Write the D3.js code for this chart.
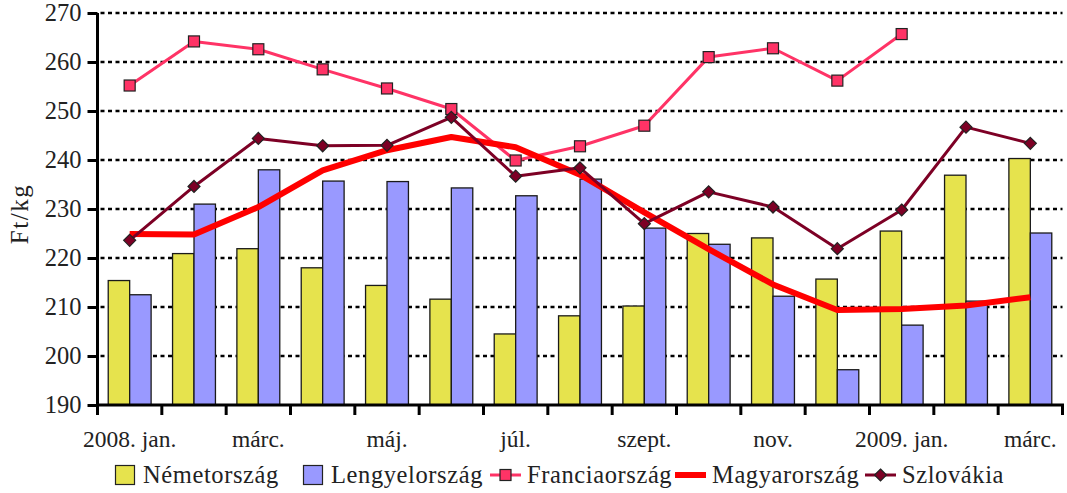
<!DOCTYPE html>
<html>
<head>
<meta charset="utf-8">
<script src="https://cdn.jsdelivr.net/npm/d3@7"></script>
<style>
  html, body { margin: 0; padding: 0; background: #fff; }
  svg { display: block; font-family: "Liberation Serif", "DejaVu Serif", serif; }
</style>
</head>
<body>
<svg id="chart" width="1067" height="493"></svg>
<script>
// months, 2008 jan .. 2009 márc
const months = ['2008. jan.', 'febr.', 'márc.', 'ápr.', 'máj.', 'jún.', 'júl.', 'aug.',
  'szept.', 'okt.', 'nov.', 'dec.', '2009. jan.', 'febr.', 'márc.'];
const monthKeys = months.map((m, i) => i + ':' + m);
const shownLabels = [0, 2, 4, 6, 8, 10, 12, 14];

const yTicks = [190, 200, 210, 220, 230, 240, 250, 260, 270];

// bar series
const nemetorszag   = [215.4, 220.9, 221.9, 218.0, 214.4, 211.6, 204.5, 208.2, 210.2, 225.0, 224.1, 215.7, 225.5, 236.9, 240.3];
const lengyelorszag = [212.5, 231.0, 238.0, 235.7, 235.6, 234.3, 232.7, 236.1, 226.1, 222.8, 212.2, 197.2, 206.3, 211.2, 225.1];

// line series
const franciaorszag = [255.2, 264.2, 262.6, 258.5, 254.6, 250.4, 239.9, 242.8, 247.0, 261.0, 262.8, 256.2, 265.7, null, null];
const magyarorszag  = [224.9, 224.8, 230.4, 237.9, 242.0, 244.7, 242.6, 237.0, 229.3, 221.8, 214.6, 209.4, 209.6, 210.3, 212.0];
const szlovakia     = [223.6, 234.6, 244.4, 242.9, 243.0, 248.7, 236.7, 238.4, 227.0, 233.5, 230.4, 221.9, 229.8, 246.7, 243.4];

const barSeries = [
  { name: 'Németország', values: nemetorszag, color: '#e6e34d' },
  { name: 'Lengyelország', values: lengyelorszag, color: '#9999ff' }
];
const lineSeries = [
  { name: 'Franciaország', values: franciaorszag, color: '#ff3366', width: 3, marker: 'square' },
  { name: 'Magyarország', values: magyarorszag, color: '#ff0000', width: 6, marker: null },
  { name: 'Szlovákia', values: szlovakia, color: '#7d0025', width: 3, marker: 'diamond' }
];

const svg = d3.select('#chart');
const plotL = 97.5, plotR = 1062.5, plotT = 13, plotB = 405;

const x = d3.scaleBand().domain(monthKeys).range([plotL, plotR]).paddingInner(0).paddingOuter(0);
const xSub = d3.scaleBand().domain(barSeries.map(s => s.name))
  .range([0, x.bandwidth()]).paddingInner(0).paddingOuter(0.5);
const y = d3.scaleLinear().domain([190, 270]).range([plotB, plotT]);

// grid
svg.append('g')
  .selectAll('line')
  .data(yTicks.filter(t => t > 190))
  .join('line')
  .attr('x1', plotL + 3).attr('x2', plotR)
  .attr('y1', d => y(d)).attr('y2', d => y(d))
  .attr('stroke', '#000').attr('stroke-width', 2.6)
  .attr('stroke-dasharray', '4,3.5');

// bars
const bars = svg.append('g');
barSeries.forEach(s => {
  bars.append('g')
    .selectAll('rect')
    .data(s.values)
    .join('rect')
    .attr('x', (d, i) => x(monthKeys[i]) + xSub(s.name))
    .attr('y', d => y(d))
    .attr('width', xSub.bandwidth())
    .attr('height', d => y(190) - y(d))
    .attr('fill', s.color)
    .attr('stroke', '#1a1a1a')
    .attr('stroke-width', 1.3);
});

// axes
const yAxis = d3.axisLeft(y).tickValues(yTicks).tickSize(10).tickPadding(6);
const gy = svg.append('g').attr('transform', `translate(${plotL},0)`).call(yAxis);
gy.select('.domain').attr('stroke-width', 3).attr('d', `M0,${plotT}V${plotB}`);
gy.selectAll('.tick line').attr('stroke-width', 3);
gy.selectAll('.tick text').attr('font-size', 24.5).attr('fill', '#222')
  .attr('font-family', '"Liberation Serif", serif');

const tickPos = monthKeys.map(k => x(k)).concat([plotR]);
const gx = svg.append('g');
gx.append('line').attr('x1', plotL - 1.5).attr('x2', plotR + 1.5)
  .attr('y1', plotB).attr('y2', plotB)
  .attr('stroke', '#000').attr('stroke-width', 3);
gx.selectAll('line.t').data(tickPos).join('line').attr('class', 't')
  .attr('x1', d => d).attr('x2', d => d)
  .attr('y1', plotB).attr('y2', plotB + 10)
  .attr('stroke', '#000').attr('stroke-width', 3);
gx.selectAll('text').data(shownLabels).join('text')
  .attr('x', i => x(monthKeys[i]) + x.bandwidth() / 2)
  .attr('y', 447)
  .attr('text-anchor', 'middle')
  .attr('font-size', 23.5).attr('fill', '#222')
  .text(i => months[i]);

// y title
svg.append('text')
  .attr('transform', `translate(28,214) rotate(-90)`)
  .attr('text-anchor', 'middle')
  .attr('font-size', 25).attr('fill', '#222')
  .attr('letter-spacing', 1.5)
  .text('Ft/kg');

// lines
const cx = i => x(monthKeys[i]) + x.bandwidth() / 2;
function drawMarker(g, type, color, px, py) {
  if (type === 'square') {
    g.append('rect').attr('x', px - 5.5).attr('y', py - 5.5)
      .attr('width', 11).attr('height', 11)
      .attr('fill', color).attr('stroke', '#222').attr('stroke-width', 1.2);
  } else if (type === 'diamond') {
    g.append('path')
      .attr('d', `M${px},${py - 6}L${px + 6},${py}L${px},${py + 6}L${px - 6},${py}Z`)
      .attr('fill', color).attr('stroke', '#222').attr('stroke-width', 1.2);
  }
}
lineSeries.forEach(s => {
  const g = svg.append('g');
  const line = d3.line()
    .defined(d => d !== null)
    .x((d, i) => cx(i))
    .y(d => y(d));
  g.append('path').datum(s.values)
    .attr('d', line)
    .attr('fill', 'none')
    .attr('stroke', s.color)
    .attr('stroke-width', s.width)
    .attr('stroke-linejoin', 'round');
  if (s.marker) {
    s.values.forEach((v, i) => {
      if (v !== null) drawMarker(g, s.marker, s.color, cx(i), y(v));
    });
  }
});

// legend
const legendX = [115, 303, 490, 675, 865];
const legendItems = barSeries.map(s => ({ name: s.name, kind: 'bar', s }))
  .concat(lineSeries.map(s => ({ name: s.name, kind: 'line', s })));
const lg = svg.append('g');
legendItems.forEach((it, i) => {
  const g = lg.append('g').attr('transform', `translate(${legendX[i]},475)`);
  let tx;
  if (it.kind === 'bar') {
    g.append('rect').attr('x', 0.5).attr('y', -9.5).attr('width', 19).attr('height', 19)
      .attr('fill', it.s.color).attr('stroke', '#222').attr('stroke-width', 1.2);
    tx = 28;
  } else {
    g.append('line').attr('x1', 0).attr('x2', 31).attr('y1', 0).attr('y2', 0)
      .attr('stroke', it.s.color).attr('stroke-width', it.s.width);
    if (it.s.marker) drawMarker(g, it.s.marker, it.s.color, 15.5, 0);
    tx = 37;
  }
  g.append('text').attr('x', tx).attr('y', 8)
    .attr('font-size', 24.5).attr('fill', '#222')
    .attr('letter-spacing', 0.6)
    .text(it.name);
});
</script>
</body>
</html>
